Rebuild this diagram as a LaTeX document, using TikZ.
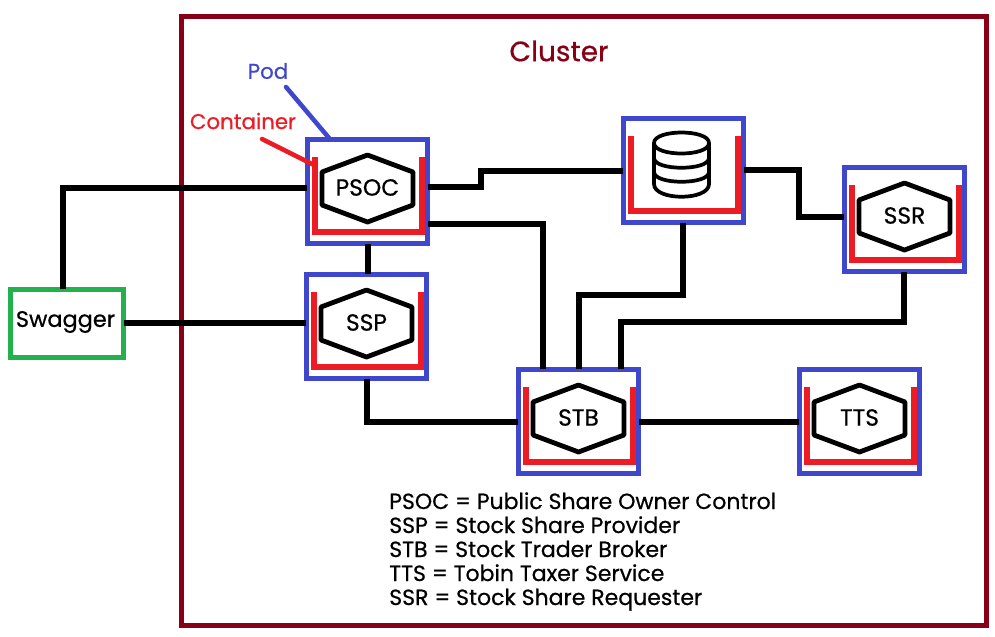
\documentclass[tikz,border=0pt]{standalone}
\usepackage{fontspec}
\setmainfont{Poppins}[FakeBold=0.6]
\definecolor{clusterred}{HTML}{880015}
\definecolor{podblue}{HTML}{3F48CC}
\definecolor{contred}{HTML}{ED1C24}
\definecolor{swgreen}{HTML}{22B14C}
\tikzset{
  podbox/.style={draw=podblue,line width=3.6pt,minimum width=90.5pt,minimum height=78.5pt,inner sep=0pt,outer sep=0pt},
  contline/.style={draw=contred,line width=3.9pt,line join=miter},
  hexline/.style={draw=black,line width=3.6pt,line join=round},
  wire/.style={draw=black,line width=3.8pt,line join=miter},
  hextext/.style={font=\fontsize{17.5pt}{18pt}\selectfont,inner sep=0pt},
  labeltext/.style={font=\fontsize{16pt}{18pt}\selectfont,inner sep=0pt},
}
\newcommand{\podshape}[4]{%
  \begin{scope}[shift={(#2,#3)}]
    \node[podbox] (#1) at (60.5,52.5) {};
    \draw[contline] (8,18) -- (8,93) -- (115,93) -- (115,18);
    \ifx&#4&\else
    \draw[hexline] (60.5,16) -- (106,33) -- (106,66) -- (60.5,83) -- (15,66) -- (15,33) -- cycle;
    \node[hextext] (#1text) at (60.5,48.5) {#4};
    \fi
  \end{scope}}
\begin{document}
\begin{tikzpicture}[x=0.75pt,y=-0.75pt]
\useasboundingbox (0,0) rectangle (995,636);
\fill[white] (0,0) rectangle (995,636);
\node[draw=clusterred,line width=3.75pt,minimum width=603.75pt,minimum height=456.75pt,inner sep=0pt,outer sep=0pt] (cluster) at (583.5,320.5) {};
\node[draw=swgreen,line width=3.6pt,minimum width=85pt,minimum height=51.5pt,inner sep=0pt,outer sep=0pt] (swagger) at (67,323.5) {};
\node[font=\fontsize{16.8pt}{18pt}\selectfont,inner sep=0pt] (swaggertext) at (65.5,322) {Swagger};
\node[text=clusterred,font=\fontsize{21pt}{24pt}\selectfont,inner sep=0pt] (clusterlabel) at (559,51) {Cluster};
\node[text=podblue,labeltext] (podlabel) at (268,71) {Pod};
\node[text=contred,labeltext] (contlabel) at (243,121) {Container};

\podshape{psoc}{307}{139}{PSOC}
\podshape{db}{623}{118}{}
\podshape{ssr}{844}{167}{SSR}
\podshape{ssp}{306}{274}{SSP}
\podshape{stb}{518}{369}{STB}
\podshape{tts}{799}{369}{TTS}

% database icon
\begin{scope}[line width=2.8pt,draw=black]
  \coordinate (dbicon) at (681.5,164.5);
  \draw (654,143) .. controls (654,129) and (709,129) .. (709,143) .. controls (709,157) and (654,157) .. (654,143) -- cycle;
  \draw (654,143) -- (654,184) .. controls (654,201) and (709,201) .. (709,184) -- (709,143);
  \draw (654,158) .. controls (654,171) and (709,171) .. (709,158);
  \draw (654,172) .. controls (654,185) and (709,185) .. (709,172);
\end{scope}

% connectors
\draw[wire] (swagger.north -| 63,0) -- (63,188) -- (psoc.west |- 0,188);
\draw[wire] (swagger.east |- 0,323) -- (ssp.west |- 0,323);
\draw[wire] (psoc.east |- 0,187) -- (481,187) -- (481,171) -- (db.west |- 0,171);
\draw[wire] (psoc.east |- 0,224) -- (543,224) -- (stb.north -| 543,0);
\draw[wire] (psoc.south -| 368,0) -- (ssp.north -| 368,0);
\draw[wire] (ssp.south -| 367,0) -- (367,422) -- (stb.west |- 0,422);
\draw[wire] (db.south -| 683,0) -- (683,295) -- (579,295) -- (stb.north -| 579,0);
\draw[wire] (db.east |- 0,170) -- (799,170) -- (799,217) -- (ssr.west |- 0,217);
\draw[wire] (ssr.south -| 904,0) -- (904,322) -- (621,322) -- (stb.north -| 621,0);
\draw[wire] (stb.east |- 0,422) -- (tts.west |- 0,422);

% label pointers
\coordinate (podtail) at (286,87);
\coordinate (conttail) at (262,139);
\draw[draw=podblue,line width=3.4pt,line cap=round] (podtail) -- (psoc.north -| 330,0);
\draw[draw=contred,line width=3.4pt,line cap=round] (conttail) -- (314,165);

\node[anchor=north west,inner sep=0pt,align=left,font=\fontsize{16.5pt}{18pt}\selectfont] (legend) at (389,492) {PSOC = Public Share Owner Control\\SSP = Stock Share Provider\\STB = Stock Trader Broker\\TTS = Tobin Taxer Service\\SSR = Stock Share Requester};
\end{tikzpicture}
\end{document}
